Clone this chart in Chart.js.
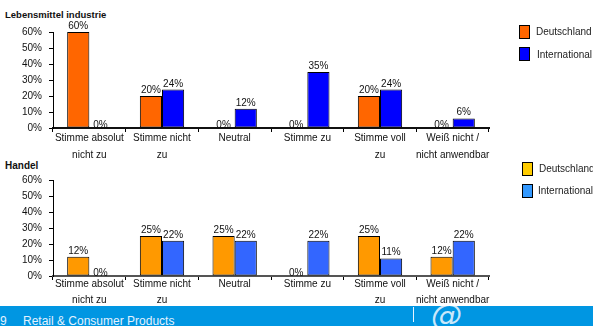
<!DOCTYPE html>
<html>
<head>
<meta charset="utf-8">
<script src="https://cdn.jsdelivr.net/npm/chart.js@4/dist/chart.umd.min.js"></script>
<style>
  html, body { margin: 0; padding: 0; background: #fff; }
  body { width: 593px; height: 326px; position: relative; overflow: hidden;
         font-family: "Liberation Sans", Arial, sans-serif; color: #111; }
  .txt { position: absolute; white-space: nowrap; line-height: 1; }
  .title { font-weight: bold; }
  canvas { position: absolute; left: 0; }
  .swatch { position: absolute; box-sizing: border-box; border: 1px solid #000; }
  .legend-label { position: absolute; white-space: nowrap; font-size: 10px; line-height: 1; color: #222; }
  #footer { position: absolute; left: 0; top: 306px; width: 593px; height: 20px;
            background: #0096e2; overflow: hidden; z-index: 5; }
  #footer .txt { color: #e4f2ff; font-size: 12px; }
  #footer .sep { position: absolute; left: 413px; top: 1px; width: 1px; height: 15px; background: #e8f4ff; }
  #footer .at { position: absolute; left: 431px; top: -6px; font-size: 31px; line-height: 1;
                font-family: "DejaVu Sans", sans-serif; font-weight: 200; font-style: italic;
                color: rgba(240, 248, 255, 0.85); }
</style>
</head>
<body>

<div class="txt title" style="left:5px; top:10px; font-size:9.5px;">Lebensmittel industrie</div>
<div class="txt title" style="left:5px; top:161px; font-size:10px;">Handel</div>

<canvas id="foodChart" width="593" height="160" style="top:0px;"></canvas>
<canvas id="retailChart" width="593" height="158" style="top:152px;"></canvas>

<!-- legend, food industry -->
<div class="swatch" style="left:519px; top:25px; width:11px; height:14px; background:#ff6600;"></div>
<div class="legend-label" style="left:536px; top:27px;">Deutschland</div>
<div class="swatch" style="left:519px; top:47px; width:11px; height:14px; background:#0000ff;"></div>
<div class="legend-label" style="left:537px; top:50px;">International</div>

<!-- legend, retail -->
<div class="swatch" style="left:522px; top:162px; width:11px; height:14px; background:#ffcc00;"></div>
<div class="legend-label" style="left:539px; top:164px;">Deutschland</div>
<div class="swatch" style="left:522px; top:184px; width:11px; height:14px; background:#3399ff;"></div>
<div class="legend-label" style="left:538px; top:186px;">International</div>

<div id="footer">
  <div class="txt" style="left:0px; top:9px;">9</div>
  <div class="txt" style="left:23px; top:9px;">Retail &amp; Consumer Products</div>
  <div class="sep"></div>
  <div class="at">@</div>
</div>

<script>
// Answer categories shown along the x axis
const categories = [
  ['Stimme absolut', 'nicht zu'],
  ['Stimme nicht', 'zu'],
  'Neutral',
  'Stimme zu',
  ['Stimme voll', 'zu'],
  ['Weiß nicht /', 'nicht anwendbar']
];
const seriesNames = ['Deutschland', 'International'];

// Lebensmittelindustrie (food industry), shares in percent
const foodGermany = [60, 20, 0, 0, 20, 0];
const foodInternational = [0, 24, 12, 35, 24, 6];

// Handel (retail), shares in percent
const retailGermany = [12, 25, 25, 0, 25, 12];
const retailInternational = [0, 22, 22, 22, 11, 22];

// y axis range and tick step
const yMin = 0;
const yMax = 60;
const yStep = 10;

Chart.defaults.font.family = '"Liberation Sans", Arial, sans-serif';
Chart.defaults.font.size = 10;
Chart.defaults.color = '#111';

// Prints each bar's value just above it
const valueLabels = {
  id: 'valueLabels',
  afterDatasetsDraw(chart) {
    const ctx = chart.ctx;
    ctx.save();
    ctx.font = '10px "Liberation Sans", Arial, sans-serif';
    ctx.fillStyle = '#111';
    ctx.textAlign = 'center';
    ctx.textBaseline = 'alphabetic';
    chart.data.datasets.forEach((ds, i) => {
      chart.getDatasetMeta(i).data.forEach((bar, j) => {
        const v = ds.data[j];
        ctx.fillText(v + '%', bar.x, bar.y - (v === 0 ? 0 : 3));
      });
    });
    ctx.restore();
  }
};

const PLOT_LEFT = 53;
const PLOT_RIGHT = 489;

function buildChart(id, canvasHeight, areaTop, areaBottom, germany, international, colors, axis) {
  return new Chart(document.getElementById(id), {
    type: 'bar',
    data: {
      labels: categories,
      datasets: [
        { label: seriesNames[0], data: germany, backgroundColor: colors[0] },
        { label: seriesNames[1], data: international, backgroundColor: colors[1] }
      ]
    },
    options: {
      responsive: false,
      animation: false,
      devicePixelRatio: 1,
      layout: { padding: { top: areaTop, right: 593 - PLOT_RIGHT, bottom: 0, left: 0 } },
      datasets: {
        bar: {
          barPercentage: 1,
          categoryPercentage: 0.61,
          borderColor: '#000',
          borderWidth: 1,
          borderSkipped: false
        }
      },
      plugins: { legend: { display: false }, tooltip: { enabled: false } },
      scales: {
        x: {
          ticks: {
            autoSkip: false, maxRotation: 0, minRotation: 0,
            padding: axis.labelPad, color: '#111',
            font: { size: 10, lineHeight: axis.lineHeight }
          },
          grid: { drawOnChartArea: false, drawTicks: true, tickLength: 4, color: '#000', offset: true },
          border: { display: true, color: axis.color, width: axis.width },
          afterFit(scale) { scale.height = canvasHeight - areaBottom; }
        },
        y: {
          min: yMin, max: yMax,
          ticks: {
            stepSize: yStep, padding: 7, color: '#111',
            font: { size: 10 },
            callback: v => v + '%'
          },
          grid: { drawOnChartArea: false, drawTicks: true, tickLength: 4, color: '#000' },
          border: { display: true, color: '#000', width: 1 },
          afterFit(scale) { scale.width = PLOT_LEFT; }
        }
      }
    },
    plugins: [valueLabels]
  });
}

buildChart('foodChart', 160, 32, 128, foodGermany, foodInternational,
  ['#ff6600', '#0000ff'],
  { color: '#111', width: 2, labelPad: -2.5, lineHeight: 1.7 });

buildChart('retailChart', 158, 28, 124, retailGermany, retailInternational,
  ['#ff9900', '#3366ff'],
  { color: '#555', width: 2, labelPad: -4, lineHeight: 1.6 });
</script>
</body>
</html>
